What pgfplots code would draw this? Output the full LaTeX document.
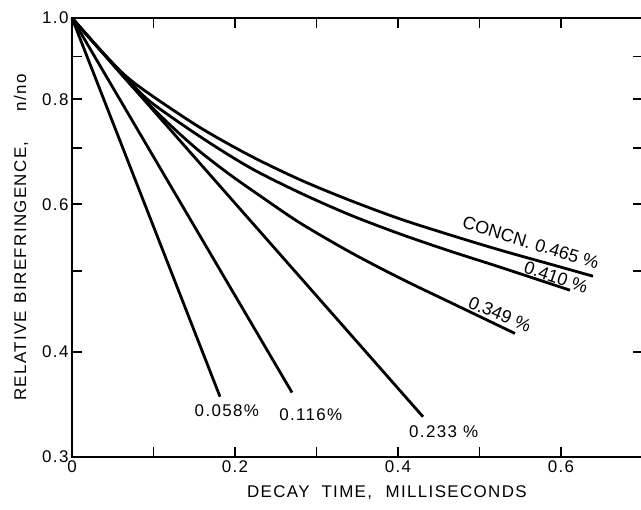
\documentclass[border=0pt]{standalone}
\usepackage{fontspec}
\setmainfont{Liberation Sans}[LetterSpace=8]
\newfontfamily\plainf{Liberation Sans}
\usepackage{pgfplots}
\pgfplotsset{compat=1.18}
\newcommand{\bigf}{\fontsize{17}{20}\selectfont}
\newcommand{\rotf}{\plainf\fontsize{18}{20}\selectfont}
\begin{document}
\begin{tikzpicture}
\begin{axis}[
  scale only axis, width=570.5bp, height=439bp,
  xmin=0, xmax=0.7, ymode=log, ymin=0.3, ymax=1.0,
  axis line style={-, line width=1.8bp},
  xtick={0,0.1,0.2,0.3,0.4,0.5,0.6,0.7},
  xticklabels={0,,0.2,,0.4,,0.6,},
  ytick={0.3,0.4,0.5,0.6,0.7,0.8,0.9,1.0},
  yticklabels={0.3,0.4,,0.6,,0.8,,1.0},
  xminorticks=false, yminorticks=false,
  xtick pos=both, ytick pos=both, yticklabel pos=left, xticklabel pos=bottom,
  tick align=inside,
  major tick length=10bp,
  major tick style={black, line width=1.8bp},
  tick label style={font=\bigf},
  label style={font=\bigf},
  xlabel={DECAY\hspace{0.7em}TIME,\hspace{0.8em}MILLISECONDS},
  ylabel={RELATIVE\hspace{0.45em}BIREFRINGENCE,\hspace{1.8em}n/no},
  xlabel style={at={(axis description cs:0.552,-0.082)}, anchor=center},
  ylabel style={at={(axis description cs:-0.0894,0.5)}, anchor=center},
  clip=false,
]
% 0.058 %
\addplot[black, line width=2.8bp] coordinates {(0,1.0) (0.1816,0.354)};
% 0.116 %
\addplot[black, line width=2.8bp] coordinates {(0,1.0) (0.270,0.358)};
% 0.233 %
\addplot[black, line width=2.8bp] coordinates {(0,1.0) (0.4307,0.335)};
% 0.349 %
\addplot[black, line width=2.8bp, smooth] coordinates {
 (0,1.0) (0.03436,0.9164) (0.06503,0.8476) (0.09571,0.7869) (0.12638,0.7365)
 (0.15706,0.6932) (0.19387,0.6507) (0.23067,0.6141) (0.27975,0.5701)
 (0.34110,0.5263) (0.40245,0.4899) (0.46380,0.4586) (0.54356,0.4210)};
% 0.410 %
\addplot[black, line width=2.8bp, smooth] coordinates {
 (0,1.0) (0.03436,0.9169) (0.06503,0.8523) (0.09571,0.7956) (0.15706,0.7225)
 (0.21840,0.6634) (0.27975,0.6192) (0.34110,0.5828) (0.40245,0.5531)
 (0.46380,0.5277) (0.52515,0.5050) (0.61104,0.4740)};
% 0.465 %
\addplot[black, line width=2.8bp, smooth] coordinates {
 (0,1.0) (0.03436,0.9169) (0.06503,0.8547) (0.09571,0.8111) (0.15706,0.7406)
 (0.21840,0.6857) (0.27975,0.6418) (0.34110,0.6065) (0.40245,0.5764)
 (0.46380,0.5516) (0.52515,0.5292) (0.58650,0.5092) (0.63926,0.4926)};
\node[font=\bigf] at (axis cs:0.190,0.3406) {0.058\%};
\node[font=\bigf] at (axis cs:0.293,0.3368) {0.116\%};
\node[font=\bigf] at (axis cs:0.456,0.3214) {0.233 \%};
\node[font=\rotf, rotate=-23, inner sep=0pt] at (axis cs:0.525,0.4437) {0.349 \%};
\node[font=\rotf, rotate=-19, inner sep=0pt] at (axis cs:0.5939,0.4913) {0.410 \%};
\node[font=\rotf, rotate=-17, inner sep=0pt] at (axis cs:0.563,0.5400) {CONCN. 0.465 \%};
\end{axis}
\pgfresetboundingbox
\path ([shift={(-72bp,-53bp)}]current axis.south west) rectangle ([shift={(-1.5bp,18bp)}]current axis.north east);
\end{tikzpicture}
\end{document}
